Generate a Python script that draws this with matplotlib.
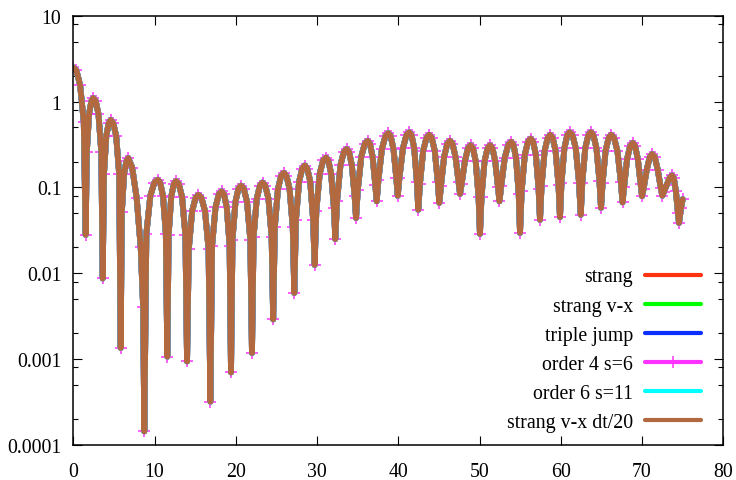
import matplotlib
matplotlib.use("Agg")
import matplotlib.pyplot as plt
from matplotlib.ticker import LogLocator, FixedLocator, FixedFormatter, NullFormatter

plt.rcParams['font.family'] = ['Liberation Serif', 'DejaVu Serif']

# time samples
time = [
    0.0, 0.38, 0.84, 1.29, 1.52,
    1.66, 1.94, 2.23, 2.46, 2.75, 3.10, 3.45, 3.62,
    3.77, 4.06, 4.36, 4.6, 4.91, 5.28, 5.65, 5.83,
    5.97, 6.25, 6.54, 6.77, 7.25, 7.8, 8.3, 8.6, 8.74,
    8.99, 9.48, 9.98, 10.39, 10.69, 11.04, 11.39, 11.57,
    11.73, 12.05, 12.37, 12.64, 12.98, 13.39, 13.80, 14.0,
    14.21, 14.63, 15.05, 15.4, 15.77, 16.21, 16.65, 16.87,
    17.08, 17.50, 17.91, 18.26, 18.55, 18.89, 19.24, 19.41,
    19.59, 19.96, 20.33, 20.64, 20.98, 21.38, 21.79, 21.99,
    22.19, 22.58, 22.97, 23.3, 23.63, 24.02, 24.41, 24.6,
    24.8, 25.19, 25.58, 25.9, 26.23, 26.62, 27.01, 27.2,
    27.4, 27.79, 28.18, 28.5, 28.8, 29.16, 29.52, 29.7,
    29.91, 30.33, 30.75, 31.1, 31.39, 31.73, 32.08, 32.25,
    32.46, 32.88, 33.3, 33.65, 33.94, 34.28, 34.63, 34.8,
    35.01, 35.44, 35.87, 36.23, 36.51, 36.84, 37.17, 37.34,
    37.55, 37.98, 38.41, 38.77, 39.06, 39.41, 39.76, 39.93,
    40.14, 40.57, 41.0, 41.35, 41.63, 41.96, 42.29, 42.46,
    42.66, 43.06, 43.47, 43.8, 44.11, 44.49, 44.86, 45.05,
    45.25, 45.64, 46.03, 46.36, 46.67, 47.04, 47.41, 47.6,
    47.8, 48.19, 48.58, 48.9, 49.19, 49.53, 49.88, 50.05,
    50.24, 50.61, 50.99, 51.3, 51.59, 51.93, 52.28, 52.45,
    52.67, 53.1, 53.54, 53.9, 54.17, 54.49, 54.82, 54.98,
    55.18, 55.57, 55.97, 56.3, 56.59, 56.93, 57.27, 57.44,
    57.63, 58.01, 58.39, 58.7, 59.0, 59.36, 59.72, 59.9,
    60.08, 60.44, 60.8, 61.1, 61.44, 61.84, 62.25, 62.45,
    62.64, 63.01, 63.39, 63.7, 64.01, 64.39, 64.76, 64.95,
    65.14, 65.51, 65.89, 66.2, 66.55, 66.97, 67.39, 67.6,
    67.79, 68.16, 68.54, 68.85, 69.14, 69.48, 69.83, 70.0,
    70.19, 70.57, 70.95, 71.26, 71.57, 71.94, 72.31, 72.5,
    72.68, 73.04, 73.4, 73.7, 73.91, 74.17, 74.42, 74.55, 74.8, 75.0,
]

# |E| values (all schemes coincide at this scale)
efield = [
    2.5, 2.31, 1.55, 0.58, 0.028,
    0.256, 0.714, 1.016, 1.10, 1.016, 0.714, 0.256, 0.0087,
    0.142, 0.396, 0.564, 0.61, 0.564, 0.396, 0.142, 0.00135,
    0.0513, 0.143, 0.203, 0.22, 0.17, 0.075, 0.02, 0.004, 0.000144,
    0.0287, 0.0798, 0.114, 0.123, 0.114, 0.0798, 0.0287, 0.00107,
    0.0277, 0.0772, 0.11, 0.119, 0.11, 0.0772, 0.0277, 0.00094,
    0.0191, 0.0532, 0.0758, 0.082, 0.0758, 0.0532, 0.0191, 0.00032,
    0.021, 0.0584, 0.0832, 0.090, 0.0832, 0.0584, 0.021, 0.0007,
    0.0245, 0.0681, 0.097, 0.105, 0.097, 0.0681, 0.0245, 0.00118,
    0.0266, 0.074, 0.105, 0.114, 0.105, 0.074, 0.0266, 0.0029,
    0.0345, 0.096, 0.137, 0.148, 0.137, 0.096, 0.0345, 0.0059,
    0.042, 0.117, 0.166, 0.18, 0.166, 0.117, 0.042, 0.0125,
    0.0535, 0.145, 0.206, 0.223, 0.206, 0.145, 0.0577, 0.025,
    0.0696, 0.182, 0.259, 0.28, 0.259, 0.182, 0.0785, 0.044,
    0.0927, 0.227, 0.323, 0.35, 0.323, 0.227, 0.107, 0.069,
    0.1215, 0.279, 0.397, 0.43, 0.397, 0.279, 0.128, 0.080,
    0.130, 0.286, 0.407, 0.44, 0.407, 0.286, 0.116, 0.055,
    0.110, 0.266, 0.379, 0.41, 0.379, 0.266, 0.116, 0.066,
    0.105, 0.227, 0.323, 0.35, 0.323, 0.227, 0.117, 0.084,
    0.111, 0.201, 0.286, 0.31, 0.286, 0.201, 0.0777, 0.0288,
    0.0777, 0.201, 0.286, 0.31, 0.286, 0.201, 0.0999, 0.069,
    0.105, 0.221, 0.314, 0.34, 0.314, 0.221, 0.0846, 0.0296,
    0.0911, 0.240, 0.342, 0.37, 0.342, 0.240, 0.0959, 0.042,
    0.104, 0.266, 0.379, 0.41, 0.379, 0.266, 0.1056, 0.045,
    0.112, 0.286, 0.407, 0.44, 0.407, 0.286, 0.113, 0.048,
    0.113, 0.286, 0.407, 0.44, 0.407, 0.286, 0.118, 0.058,
    0.112, 0.266, 0.379, 0.41, 0.379, 0.266, 0.117, 0.067,
    0.102, 0.214, 0.305, 0.33, 0.305, 0.214, 0.110, 0.079,
    0.097, 0.159, 0.226, 0.245, 0.226, 0.159, 0.098, 0.080,
    0.088, 0.107, 0.13, 0.138, 0.128, 0.09, 0.05, 0.0386, 0.058, 0.073,
]

series_names = ["strang", "strang v-x", "triple jump", "order 4 s=6",
                "order 6 s=11", "strang v-x dt/20"]
series_colors = ["#ff3310", "#00ff00", "#0a30ff", "#ff33ff", "#00ffff", "#b2693f"]
series_markers = [None, None, None, "+", None, None]

x_ticks = [0, 10, 20, 30, 40, 50, 60, 70, 80]
y_ticks = [0.0001, 0.001, 0.01, 0.1, 1, 10]
y_tick_labels = ["0.0001", "0.001", "0.01", "0.1", "1", "10"]

FS = 14.3

fig = plt.figure(figsize=(7.36, 4.81), dpi=100)
ax = fig.add_axes([73.3 / 736, 1 - 446 / 481, 650 / 736, 429.3 / 481])

for name, col, mk in zip(series_names, series_colors, series_markers):
    ax.plot(time, efield, color=col, lw=4.2, label=name,
            marker=mk, markersize=8, markeredgewidth=1.1,
            solid_joinstyle="round", solid_capstyle="round")

ax.set_yscale("log")
ax.set_xlim(0, 80)
ax.set_ylim(1e-4, 10)

ax.xaxis.set_major_locator(FixedLocator(x_ticks))
ax.set_xticklabels([str(v) for v in x_ticks])
ax.yaxis.set_major_locator(FixedLocator(y_ticks))
ax.yaxis.set_major_formatter(FixedFormatter(y_tick_labels))
ax.yaxis.set_minor_locator(LogLocator(base=10, subs=(2, 5, 8)))
ax.yaxis.set_minor_formatter(NullFormatter())

ax.tick_params(which="both", direction="in", top=True, right=True,
               labelsize=FS, width=0.8, colors="black")
ax.tick_params(which="major", length=6.5, pad=8.5)
ax.tick_params(which="minor", length=3.6)
ax.tick_params(axis="x", pad=12.0)
for s in ax.spines.values():
    s.set_linewidth(1.1)

leg = ax.legend(loc="lower right", bbox_to_anchor=(0.9657, 0.03),
                markerfirst=False, frameon=False, fontsize=FS,
                handlelength=2.82, handletextpad=0.6, labelspacing=0.51,
                borderpad=0, borderaxespad=0, numpoints=1)
for ln in leg.get_lines():
    ln.set_linewidth(3.0)

fig.savefig("out.png", dpi=100)
